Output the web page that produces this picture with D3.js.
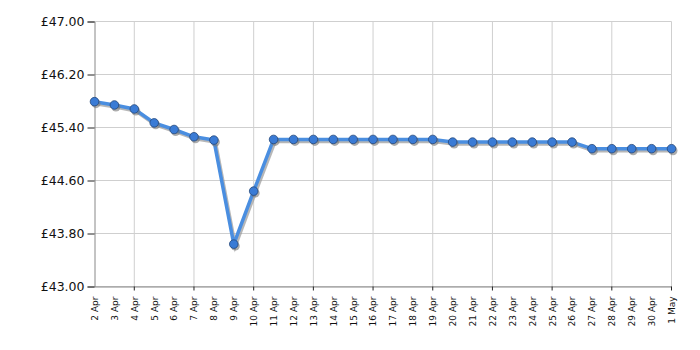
<!DOCTYPE html>
<html>
<head>
<meta charset="utf-8">
<script src="https://cdn.jsdelivr.net/npm/d3@7/dist/d3.min.js"></script>
<style>
  body { margin: 0; background: #fff; }
  svg text { font-family: "DejaVu Sans", Verdana, sans-serif; fill: #111; }
  .grid line { stroke: #cfcfcf; stroke-width: 1px; }
</style>
</head>
<body>
<div id="chart"></div>
<script>
var dates = ["2 Apr","3 Apr","4 Apr","5 Apr","6 Apr","7 Apr","8 Apr","9 Apr","10 Apr","11 Apr",
  "12 Apr","13 Apr","14 Apr","15 Apr","16 Apr","17 Apr","18 Apr","19 Apr","20 Apr","21 Apr",
  "22 Apr","23 Apr","24 Apr","25 Apr","26 Apr","27 Apr","28 Apr","29 Apr","30 Apr","1 May"];
var prices = [45.79, 45.74, 45.68, 45.47, 45.37, 45.26, 45.21, 43.64, 44.44, 45.22,
  45.22, 45.22, 45.22, 45.22, 45.22, 45.22, 45.22, 45.22, 45.18, 45.18,
  45.18, 45.18, 45.18, 45.18, 45.18, 45.08, 45.08, 45.08, 45.08, 45.08];
var yTicks = [43.00, 43.80, 44.60, 45.40, 46.20, 47.00];
var gridDates = ["4 Apr","7 Apr","10 Apr","13 Apr","16 Apr","19 Apr","22 Apr","25 Apr","28 Apr","1 May"];

var width = 700, height = 350;
var mLeft = 94.5, mRight = 671.5, mTop = 21.5, mBottom = 286.5;

var svg = d3.select("#chart").append("svg")
    .attr("width", width)
    .attr("height", height);

var x = d3.scalePoint().domain(dates).range([mLeft, mRight]);
var y = d3.scaleLinear().domain([43, 47]).range([mBottom, mTop]);

// grid
var grid = svg.append("g").attr("class", "grid");
grid.selectAll(".h").data(yTicks).enter().append("line")
    .attr("x1", mLeft).attr("x2", mRight)
    .attr("y1", function (d) { return y(d); })
    .attr("y2", function (d) { return y(d); });
grid.selectAll(".v").data(gridDates).enter().append("line")
    .attr("x1", function (d) { return x(d); })
    .attr("x2", function (d) { return x(d); })
    .attr("y1", mTop).attr("y2", mBottom);

// axes
var yAxis = svg.append("g")
    .attr("transform", "translate(" + mLeft + ",0)")
    .call(d3.axisLeft(y).tickValues(yTicks).tickSize(7).tickPadding(3)
        .tickFormat(function (d) { return "£" + d.toFixed(2); }));
yAxis.select(".domain").attr("stroke", "#888");
yAxis.selectAll(".tick line").attr("stroke", "#222");
yAxis.selectAll("text").style("font-size", "12.5px");

var xAxis = svg.append("g")
    .attr("transform", "translate(0," + mBottom + ")")
    .call(d3.axisBottom(x).tickSize(0).tickPadding(0));
xAxis.select(".domain").attr("stroke", "#888");
xAxis.selectAll("text")
    .style("font-size", "9px")
    .attr("text-anchor", "end")
    .attr("transform", "rotate(-90)")
    .attr("x", -10)
    .attr("y", 0)
    .attr("dy", "0.32em");
xAxis.selectAll(".mark").data(gridDates).enter().append("line")
    .attr("x1", function (d) { return x(d); })
    .attr("x2", function (d) { return x(d); })
    .attr("y1", 0).attr("y2", 4)
    .attr("stroke", "#222");

// line + shadow
var line = d3.line()
    .x(function (d, i) { return x(dates[i]); })
    .y(function (d) { return y(d); });

svg.append("path")
    .datum(prices)
    .attr("d", line)
    .attr("transform", "translate(1.5,2)")
    .attr("fill", "none")
    .attr("stroke", "#999")
    .attr("stroke-opacity", 0.7)
    .attr("stroke-width", 3.5);

svg.append("path")
    .datum(prices)
    .attr("d", line)
    .attr("fill", "none")
    .attr("stroke", "#4a8ee0")
    .attr("stroke-width", 3.5)
    .attr("stroke-linejoin", "round");

svg.selectAll(".shadow").data(prices).enter().append("circle")
    .attr("cx", function (d, i) { return x(dates[i]) + 1.5; })
    .attr("cy", function (d) { return y(d) + 2; })
    .attr("r", 4.5)
    .attr("fill", "#777")
    .attr("fill-opacity", 0.6);

svg.selectAll(".dot").data(prices).enter().append("circle")
    .attr("cx", function (d, i) { return x(dates[i]); })
    .attr("cy", function (d) { return y(d); })
    .attr("r", 4.3)
    .attr("fill", "#3a7bd5")
    .attr("stroke", "#24487a")
    .attr("stroke-width", 0.8);
</script>
</body>
</html>
